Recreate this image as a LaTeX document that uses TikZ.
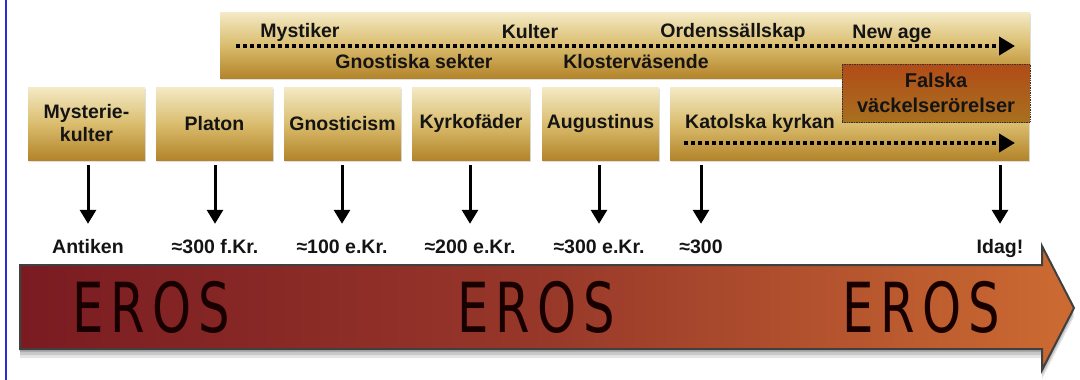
\documentclass[tikz,border=0pt]{standalone}
\usepackage{fontspec}
\setmainfont{Liberation Sans}
\newfontfamily\erosfont[FakeStretch=0.72,LetterSpace=10]{DejaVu Sans}
\usetikzlibrary{arrows.meta,shadows}
\definecolor{goldtop}{HTML}{F4EAC6}
\definecolor{goldmid}{HTML}{DABD6E}
\definecolor{goldbot}{HTML}{B3842A}
\definecolor{falsktop}{HTML}{B14C17}
\definecolor{falskbot}{HTML}{A8701F}
\definecolor{erosleft}{HTML}{7A1B22}
\definecolor{erosmid}{HTML}{98382A}
\definecolor{erosright}{HTML}{CC6B31}
\definecolor{ink}{HTML}{141414}
\definecolor{edgeblue}{HTML}{2A2AD6}
\newcommand\boxfont{\fontsize{19.5}{23}\selectfont\bfseries}
\tikzset{
  goldbox/.style={rectangle, top color=goldtop, bottom color=goldbot, middle color=goldmid,
    inner sep=0pt, align=center, font=\boxfont, text=ink,
    drop shadow={opacity=0.25, shadow xshift=1pt, shadow yshift=-2pt}},
  datelabel/.style={font=\boxfont, text=ink, inner sep=0pt, text height=15pt, text depth=4pt, anchor=base},
  bandtext/.style={font=\boxfont, text=ink, inner sep=0pt},
  darr/.style={draw=black, line width=3pt, -{Triangle[width=16pt,length=14pt]}, shorten <=5pt, shorten >=14pt},
  dotarr/.style={draw=black, line width=4pt, dash pattern=on 4pt off 3pt, -{Triangle[width=18pt,length=16pt]}},
  erostext/.style={font=\erosfont\fontsize{69}{69}\selectfont, text=black!90!red, inner sep=0pt},
}
\begin{document}
\begin{tikzpicture}[x=1pt,y=-1pt]
\useasboundingbox (0,0) rectangle (1080,380);
\fill[white] (0,0) rectangle (1080,380);
\draw[edgeblue, line width=1.5pt] (6,0) -- (6,380);

% top band
\node[goldbox, minimum width=810pt, minimum height=66pt] (band) at (625,45) {};
\node[bandtext] (mystiker) at (300,32) {Mystiker};
\node[bandtext] (kulter) at (530,32) {Kulter};
\node[bandtext] (orden) at (733,32) {Ordenssällskap};
\node[bandtext] (newage) at (892,34) {New age};
\node[bandtext] (gnsekt) at (414,62) {Gnostiska sekter};
\node[bandtext] (kloster) at (636,62) {Klosterväsende};
\coordinate (bandstart) at (236,46);
\coordinate (bandend) at (1015,46);
\draw[dotarr] (bandstart) -- (bandend);

% row boxes
\node[goldbox, minimum width=117pt, minimum height=73pt] (myst) at (86.5,123.5) {Mysterie-\\kulter};
\node[goldbox, minimum width=117pt, minimum height=73pt] (platon) at (214.5,123.5) {Platon};
\node[goldbox, minimum width=117pt, minimum height=73pt] (gnost) at (342.5,123.5) {Gnosticism};
\node[goldbox, minimum width=118pt, minimum height=73pt] (kyrko) at (471,123.5) {Kyrkofäder};
\node[goldbox, minimum width=117pt, minimum height=73pt] (augu) at (600.5,123.5) {Augustinus};
\node[goldbox, minimum width=359pt, minimum height=73pt] (katol) at (849.5,123.5) {};
\node[bandtext, anchor=west] (katoltext) at (685,123) {Katolska kyrkan};
\coordinate (katstart) at (684,143);
\coordinate (katend) at (1015,143);
\draw[dotarr] (katstart) -- (katend);

% Falska box
\node[rectangle, top color=falsktop, bottom color=falskbot, draw=black!80, densely dotted, line width=0.7pt,
  minimum width=188pt, minimum height=58pt, inner sep=0pt, align=center, font=\fontsize{20}{25}\selectfont\bfseries, text=ink]
  (falska) at (936,93) {Falska\\väckelserörelser};

% date labels
\node[datelabel] (d1) at (88,253) {Antiken};
\node[datelabel] (d2) at (215,253) {≈300 f.Kr.};
\node[datelabel] (d3) at (342,253) {≈100 e.Kr.};
\node[datelabel] (d4) at (470,253) {≈200 e.Kr.};
\node[datelabel] (d5) at (599,253) {≈300 e.Kr.};
\node[datelabel] (d6) at (701,253) {≈300};
\node[datelabel] (d7) at (1000,253) {Idag!};

% arrows
\draw[darr] (myst.south -| d1) -- (d1.north);
\draw[darr] (platon.south -| d2) -- (d2.north);
\draw[darr] (gnost.south -| d3) -- (d3.north);
\draw[darr] (kyrko.south -| d4) -- (d4.north);
\draw[darr] (augu.south -| d5) -- (d5.north);
\draw[darr] (katol.south -| d6) -- (d6.north);
\draw[darr] (katol.south -| d7) -- (d7.north);

% big arrow
\path[preaction={fill=black, opacity=0.10, transform canvas={yshift=-9pt}},
      preaction={fill=black, opacity=0.12, transform canvas={yshift=-6pt}},
      preaction={fill=black, opacity=0.15, transform canvas={yshift=-3pt}},
      left color=erosleft, right color=erosright, middle color=erosmid,
      draw=black!75, line width=2pt, line join=miter]
  (20,265) -- (1042,265) -- (1042,246) -- (1074,308) -- (1042,370) -- (1042,349) -- (20,349) -- cycle;
\node[erostext] (eros1) at (151,307) {EROS};
\node[erostext] (eros2) at (536,307) {EROS};
\node[erostext] (eros3) at (921,307) {EROS};
\end{tikzpicture}
\end{document}
